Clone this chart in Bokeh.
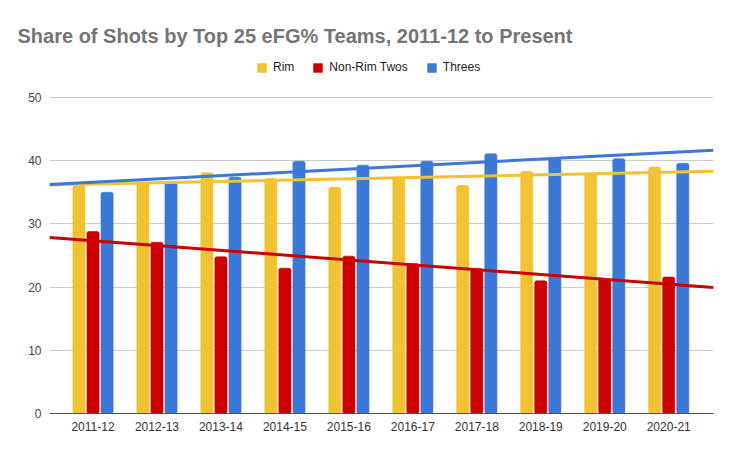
import numpy as np
from bokeh.plotting import figure
from bokeh.models import Range1d, FixedTicker, Legend, LegendItem
from bokeh.embed import file_html
from bokeh.resources import INLINE

seasons = ["2011-12", "2012-13", "2013-14", "2014-15", "2015-16",
           "2016-17", "2017-18", "2018-19", "2019-20", "2020-21"]
rim = [36.1, 36.6, 38.1, 37.2, 35.8, 37.4, 36.1, 38.3, 37.9, 39.0]
non_rim_twos = [28.8, 27.1, 24.8, 23.0, 24.9, 23.7, 22.9, 21.0, 21.3, 21.6]
threes = [35.0, 36.6, 37.4, 39.9, 39.3, 39.9, 41.1, 40.3, 40.3, 39.6]
y_ticks = [0, 10, 20, 30, 40, 50]

series = [("Rim", rim, "#f1c232"),
          ("Non-Rim Twos", non_rim_twos, "#cc0000"),
          ("Threes", threes, "#3c78d8")]

FONT = "Liberation Sans"
idx = np.arange(len(seasons))
x0, x1 = -0.68, 9.7

p = figure(width=728, height=448, output_backend="svg", toolbar_location=None,
           x_range=Range1d(x0, x1), y_range=Range1d(0, 57.44),
           min_border_left=49, min_border_right=15, min_border_bottom=35,
           min_border_top=50)
p.outline_line_color = None
p.background_fill_color = "white"
p.border_fill_color = "white"

p.title.text = "Share of Shots by Top 25 eFG% Teams, 2011-12 to Present"
p.title.text_font = FONT
p.title.text_font_size = "20px"
p.title.text_font_style = "bold"
p.title.text_color = "#757575"
p.title.align = "left"
p.title.offset = -32
p.title.standoff = 8

bw = 0.19
offs = [-0.22, 0.0, 0.22]
items = []
for (name, vals, col), o in zip(series, offs):
    r = p.vbar(x=idx + o, top=vals, bottom=0, width=bw, fill_color=col,
               line_color=col, line_alpha=0.6, border_radius=2)
    items.append(LegendItem(label=name, renderers=[r]))

xs = np.array([x0, x1])
for name, vals, col in series:
    m, b = np.polyfit(idx, vals, 1)
    p.line(xs, m * xs + b, line_color=col, line_width=3)

legend = Legend(items=items, orientation="horizontal", location=(207, 339),
                label_text_font=FONT, label_text_font_size="12px",
                label_text_color="#222222", glyph_width=11, glyph_height=11,
                label_standoff=6, spacing=18, border_line_color=None,
                background_fill_alpha=0, padding=4, margin=0)
p.add_layout(legend)

p.xaxis.ticker = FixedTicker(ticks=list(idx))
p.xaxis.major_label_overrides = {int(i): s for i, s in zip(idx, seasons)}
p.xaxis.major_tick_line_color = None
p.xaxis.minor_tick_line_color = None
p.xaxis.axis_line_color = "#555555"
p.xaxis.major_label_text_font = FONT
p.xaxis.major_label_text_font_size = "12px"
p.xaxis.major_label_text_color = "#333333"
p.xaxis.major_label_standoff = 2

p.yaxis.ticker = FixedTicker(ticks=y_ticks)
p.yaxis.axis_line_color = None
p.yaxis.major_tick_line_color = None
p.yaxis.minor_tick_line_color = None
p.yaxis.major_label_text_font = FONT
p.yaxis.major_label_text_font_size = "12px"
p.yaxis.major_label_text_color = "#444444"
p.yaxis.major_label_standoff = 2

p.xgrid.grid_line_color = None
p.ygrid.grid_line_color = "#cccccc"
p.ygrid.grid_line_width = 1

open("out.html", "w").write(file_html(p, INLINE))
